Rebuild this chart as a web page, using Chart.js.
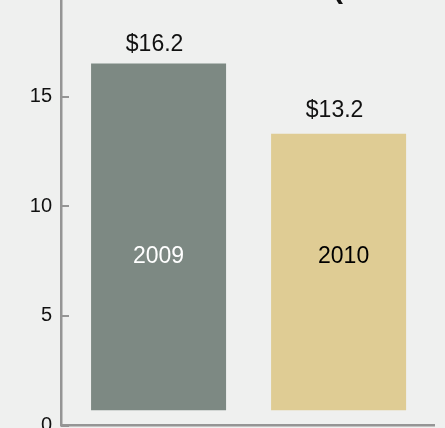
<!DOCTYPE html>
<html>
<head>
<meta charset="utf-8">
<script src="https://cdn.jsdelivr.net/npm/chart.js@4"></script>
<style>
  html, body { margin: 0; padding: 0; background: #eff0ef; }
  #wrap { width: 445px; height: 428px; }
</style>
</head>
<body>
<div id="wrap"><canvas id="chart"></canvas></div>
<script>
// values
const years = ['2009', '2010'];
const barBase = [0.7, 0.7];
const barTop = [16.5, 13.3];
const valueLabels = [16.2, 13.2];
const yTicks = [0, 5, 10, 15];
const yearLabelLevel = 7.4;

const barColors = ['#7d8983', '#dfcc94'];
const yearColors = ['#ffffff', '#000000'];
const axisColor = '#959595';
const FONT = '"Liberation Sans", Arial, Helvetica, sans-serif';

const labelsPlugin = {
    id: 'labels',
    afterDatasetsDraw(chart) {
        const ctx = chart.ctx;
        const x = chart.scales.x;
        const y = chart.scales.y;
        const bars = chart.getDatasetMeta(0).data;
        ctx.save();

        // small inner ticks on the y axis
        ctx.strokeStyle = axisColor;
        ctx.lineWidth = 2;
        yTicks.forEach(v => {
            const py = Math.round(y.getPixelForValue(v));
            ctx.beginPath();
            ctx.moveTo(x.left, py);
            ctx.lineTo(x.left + 8, py);
            ctx.stroke();
        });

        ctx.font = '23px ' + FONT;
        ctx.textAlign = 'center';
        ctx.textBaseline = 'alphabetic';
        bars.forEach((bar, i) => {
            ctx.fillStyle = '#111111';
            ctx.fillText('$' + valueLabels[i].toFixed(1), bar.x - 4, y.getPixelForValue(valueLabels[i]) - 19);
            ctx.fillStyle = yearColors[i];
            ctx.fillText(years[i], bar.x + (i === 1 ? 5 : 0), y.getPixelForValue(yearLabelLevel));
        });

        // bottom of the cut-off title
        ctx.fillStyle = '#111111';
        ctx.font = 'bold 30px ' + FONT;
        ctx.textAlign = 'left';
        ctx.fillText('(', 333, -2);
        ctx.restore();
    }
};

const ctx = document.getElementById('chart').getContext('2d');
const chart = new Chart(ctx, {
    type: 'bar',
    data: {
        labels: years,
        datasets: [{
            data: years.map((yr, i) => ({ x: i, y: [barBase[i], barTop[i]] })),
            backgroundColor: barColors,
            borderWidth: 0,
            categoryPercentage: 1,
            barPercentage: 1.5
        }]
    },
    options: {
        responsive: true,
        maintainAspectRatio: false,
        animation: false,
        layout: { padding: { left: 0, right: 11, top: 0, bottom: 0 } },
        plugins: {
            legend: { display: false },
            tooltip: { enabled: false },
            title: { display: false }
        },
        scales: {
            x: {
                type: 'linear',
                offset: false,
                min: -0.542,
                max: 1.53,
                grid: { display: false, drawTicks: false },
                ticks: { display: false },
                border: { color: axisColor, width: 2.5 },
                afterFit(scale) {
                    scale.height = 2.5;
                    scale.paddingLeft = 0;
                    scale.paddingRight = 0;
                }
            },
            y: {
                min: 0,
                max: 19.4,
                grid: { display: false, drawTicks: false },
                border: { color: axisColor, width: 2.5 },
                ticks: {
                    color: '#111111',
                    padding: 9,
                    font: { family: FONT, size: 20 }
                },
                afterBuildTicks(scale) {
                    scale.ticks = yTicks.map(v => ({ value: v }));
                },
                afterFit(scale) {
                    scale.width = 61;
                    scale.paddingTop = 0;
                    scale.paddingBottom = 0;
                }
            }
        }
    },
    plugins: [labelsPlugin]
});
</script>
</body>
</html>
